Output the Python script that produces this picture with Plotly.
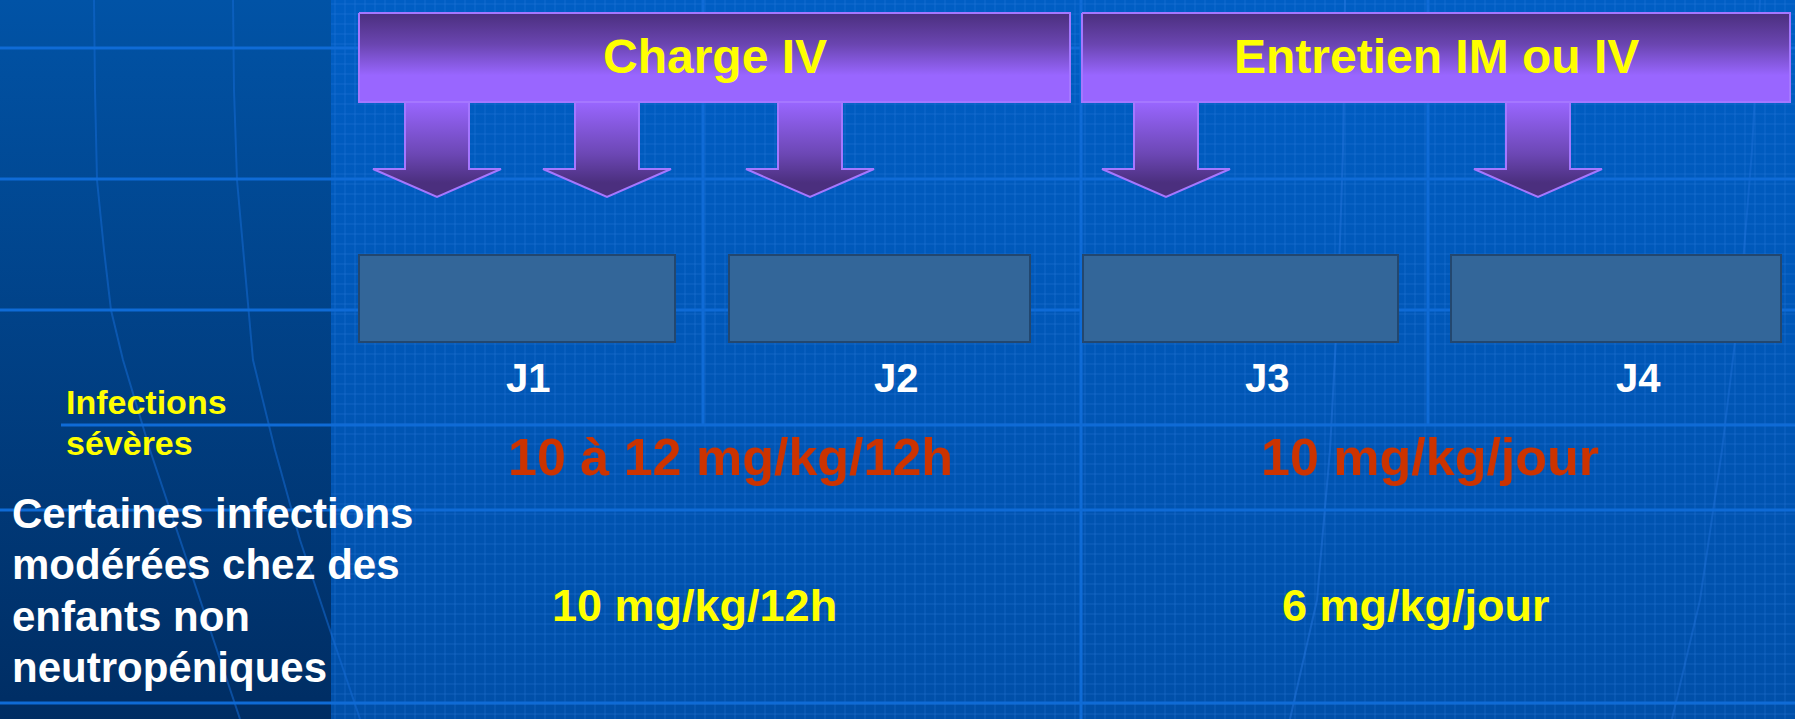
import numpy as np
import plotly.graph_objects as go

W, H = 1795, 719

# texte / valeurs du schéma
phases = ["Charge IV", "Entretien IM ou IV"]
days = ["J1", "J2", "J3", "J4"]
severe_label = ["Infections", "sévères"]
moderate_label = ["Certaines infections", "modérées chez des", "enfants non", "neutropéniques"]
severe_doses = ["10 à 12 mg/kg/12h", "10 mg/kg/jour"]
moderate_doses = ["10 mg/kg/12h", "6 mg/kg/jour"]

# mise en page (pixels, y vers le bas)
panel_x = 331
phase_x = [(359, 1070), (1082, 1790)]
phase_y = (13, 102)
arrow_cx = [437, 607, 810, 1166, 1538]
day_box_x = [(359, 675), (729, 1030), (1083, 1398), (1451, 1781)]
day_box_y = (255, 342)
day_label_x = [528, 896, 1267, 1638]
severe_x = [730, 1430]
moderate_x = [694, 1416]

FONT = "Liberation Sans, Arial, sans-serif"
LIGHT_PURPLE = "#9966ff"
DARK_PURPLE = "#4b2f7e"
LINE_BLUE = "#0f6bd6"

fig = go.Figure()


def poly(xs, ys, colorscale, start, stop, line=None):
    fig.add_trace(go.Scatter(
        x=xs, y=ys, mode="lines", fill="toself",
        fillgradient=dict(type="vertical", colorscale=colorscale, start=start, stop=stop),
        line=line or dict(width=0, color="rgba(0,0,0,0)"),
        hoverinfo="skip", showlegend=False,
    ))


def path(xs, ys, color, width):
    fig.add_trace(go.Scatter(
        x=xs, y=ys, mode="lines", line=dict(color=color, width=width),
        hoverinfo="skip", showlegend=False, connectgaps=False,
    ))


# fond droit
poly([panel_x, W, W, panel_x, panel_x], [0, 0, H, H, 0],
     [[0, "#005ec4"], [1, "#004fa8"]], 0, H)

# grille fine
gx, gy = [], []
for x in np.arange(panel_x + 4, W, 10):
    gx += [x, x, None]
    gy += [0, H, None]
for y in np.arange(4, H, 10):
    gx += [panel_x, W, None]
    gy += [y, y, None]
path(gx, gy, "rgba(70,145,235,0.27)", 1)

# panneau gauche
poly([0, panel_x, panel_x, 0, 0], [0, 0, H, H, 0],
     [[0, "#0153a6"], [1, "#002d63"]], 0, H)

# méridiens discrets
path([94, 95, 97, 104, 111, 123, 150, 180, 210, 240],
     [0, 90, 180, 250, 310, 360, 450, 540, 630, 719], "rgba(20,105,210,0.55)", 2)
path([233, 234, 237, 243, 248, 253, 275, 300, 330, 360],
     [0, 90, 180, 250, 310, 360, 450, 540, 630, 719], "rgba(20,105,210,0.55)", 2)
path([1345, 1343, 1338, 1330, 1317, 1290],
     [0, 150, 300, 450, 600, 719], "rgba(40,120,225,0.45)", 2)
path([1760, 1752, 1740, 1722, 1700, 1672],
     [0, 150, 300, 450, 600, 719], "rgba(40,120,225,0.35)", 2)

# lignes du quadrillage principal
for y in [48, 179, 310, 510, 703]:
    path([0, W], [y, y], LINE_BLUE, 3)
path([61, W], [425, 425], LINE_BLUE, 3)
path([703, 703], [0, 425], LINE_BLUE, 3)
path([1081, 1081], [0, H], LINE_BLUE, 3)
path([1428, 1428], [0, 425], LINE_BLUE, 3)

# flèches
for cx in arrow_cx:
    xs = [cx - 32, cx + 32, cx + 32, cx + 64, cx, cx - 64, cx - 32, cx - 32]
    ys = [phase_y[1] - 2, phase_y[1] - 2, 169, 169, 197, 169, 169, phase_y[1] - 2]
    poly(xs, ys, [[0, LIGHT_PURPLE], [0.55, "#6c47b4"], [0.85, DARK_PURPLE], [1, DARK_PURPLE]],
         phase_y[1], 197, line=dict(color="#a577ff", width=2))

# en-têtes des phases
for (x0, x1), name in zip(phase_x, phases):
    y0, y1 = phase_y
    poly([x0, x1, x1, x0, x0], [y0, y0, y1, y1, y0],
         [[0, DARK_PURPLE], [0.35, "#6a45b0"], [0.7, LIGHT_PURPLE], [1, LIGHT_PURPLE]],
         y0, y1, line=dict(color="#a577ff", width=2))
    fig.add_annotation(x=(x0 + x1) / 2, y=56, text=f"<b>{name}</b>", showarrow=False,
                       xanchor="center", yanchor="middle",
                       font=dict(family=FONT, size=48, color="#ffff00"))

# cases des jours
for (x0, x1) in day_box_x:
    fig.add_shape(type="rect", x0=x0, x1=x1, y0=day_box_y[0], y1=day_box_y[1],
                  fillcolor="#336699", line=dict(color="#23476f", width=2), layer="above")

for x, d in zip(day_label_x, days):
    fig.add_annotation(x=x, y=378, text=f"<b>{d}</b>", showarrow=False,
                       xanchor="center", yanchor="middle",
                       font=dict(family=FONT, size=40, color="white"))

# étiquettes des lignes
for i, line in enumerate(severe_label):
    fig.add_annotation(x=64, y=402 + 41 * i, text=f"<b>{line}</b>", showarrow=False,
                       xanchor="left", yanchor="middle",
                       font=dict(family=FONT, size=34, color="#ffff00"))
for i, line in enumerate(moderate_label):
    fig.add_annotation(x=10, y=513 + 51.5 * i, text=f"<b>{line}</b>", showarrow=False,
                       xanchor="left", yanchor="middle",
                       font=dict(family=FONT, size=42, color="white"))

# posologies
for x, d in zip(severe_x, severe_doses):
    fig.add_annotation(x=x, y=457, text=f"<b>{d}</b>", showarrow=False,
                       xanchor="center", yanchor="middle",
                       font=dict(family=FONT, size=52, color="#cc3300"))
for x, d in zip(moderate_x, moderate_doses):
    fig.add_annotation(x=x, y=605, text=f"<b>{d}</b>", showarrow=False,
                       xanchor="center", yanchor="middle",
                       font=dict(family=FONT, size=45, color="#ffff00"))

fig.update_layout(
    width=W, height=H, margin=dict(l=0, r=0, t=0, b=0),
    paper_bgcolor="#004fa8", plot_bgcolor="#004fa8",
    xaxis=dict(range=[0, W], visible=False, fixedrange=True),
    yaxis=dict(range=[H, 0], visible=False, fixedrange=True),
    showlegend=False,
)

fig.write_html("out.html", config={"displayModeBar": False},
               post_script="document.body.style.margin='0';document.body.style.overflow='hidden';")
